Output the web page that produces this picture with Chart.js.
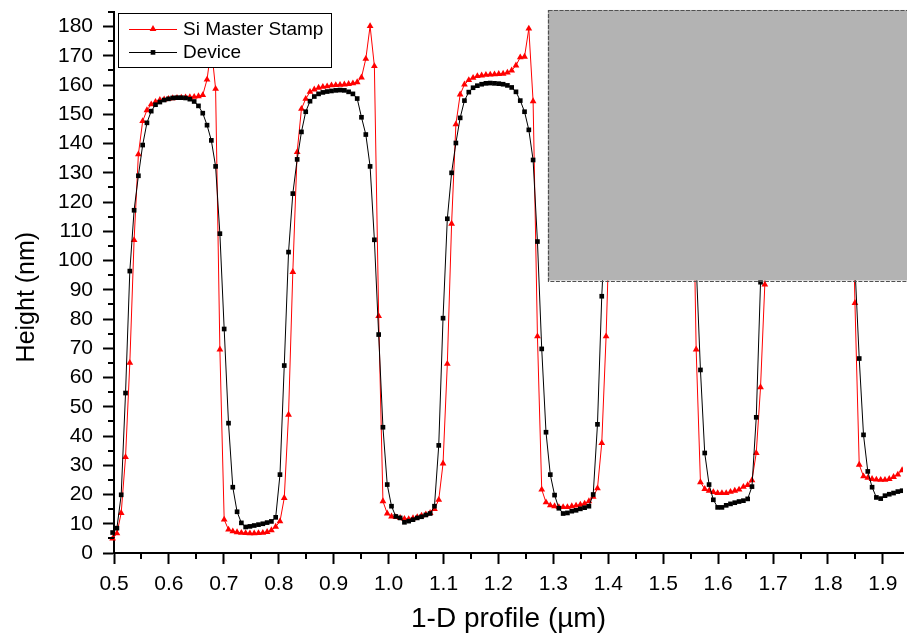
<!DOCTYPE html>
<html><head><meta charset="utf-8">
<script src="https://cdn.jsdelivr.net/npm/chart.js@4.4.1/dist/chart.umd.min.js"></script>
<style>html,body{margin:0;padding:0;background:#fff;}#wrap{width:907px;height:637px;position:relative;}</style>
</head><body><div id="wrap"><canvas id="c" width="907" height="637"></canvas></div>
<script>
// ---- data ----
const xValues = [
0.4897,0.4975,0.5053,0.5131,0.5210,0.5288,0.5366,0.5444,
0.5522,0.5600,0.5678,0.5756,0.5835,0.5913,0.5991,0.6069,
0.6147,0.6225,0.6303,0.6381,0.6460,0.6538,0.6616,0.6694,
0.6772,0.6850,0.6928,0.7006,0.7085,0.7163,0.7241,0.7319,
0.7397,0.7475,0.7553,0.7631,0.7710,0.7788,0.7866,0.7944,
0.8022,0.8100,0.8178,0.8256,0.8335,0.8413,0.8491,0.8569,
0.8647,0.8725,0.8803,0.8881,0.8960,0.9038,0.9116,0.9194,
0.9272,0.9350,0.9428,0.9506,0.9585,0.9663,0.9741,0.9819,
0.9897,0.9975,1.0053,1.0131,1.0210,1.0288,1.0366,1.0444,
1.0522,1.0600,1.0678,1.0756,1.0835,1.0913,1.0991,1.1069,
1.1147,1.1225,1.1303,1.1381,1.1460,1.1538,1.1616,1.1694,
1.1772,1.1850,1.1928,1.2006,1.2085,1.2163,1.2241,1.2319,
1.2397,1.2475,1.2553,1.2631,1.2710,1.2788,1.2866,1.2944,
1.3022,1.3100,1.3178,1.3256,1.3335,1.3413,1.3491,1.3569,
1.3647,1.3725,1.3803,1.3881,1.3960,1.4038,1.4116,1.4194,
1.4272,1.4350,1.4428,1.4506,1.4585,1.4663,1.4741,1.4819,
1.4897,1.4975,1.5053,1.5131,1.5210,1.5288,1.5366,1.5444,
1.5522,1.5600,1.5678,1.5756,1.5835,1.5913,1.5991,1.6069,
1.6147,1.6225,1.6303,1.6381,1.6460,1.6538,1.6616,1.6694,
1.6772,1.6850,1.6928,1.7006,1.7085,1.7163,1.7241,1.7319,
1.7397,1.7475,1.7553,1.7631,1.7710,1.7788,1.7866,1.7944,
1.8022,1.8100,1.8178,1.8256,1.8335,1.8413,1.8491,1.8569,
1.8647,1.8725,1.8803,1.8881,1.8960,1.9038,1.9116,1.9194,
1.9272,1.9350,1.9428
];
const stampHeights = [
4.4,4.9,6.7,13.7,32.8,65.0,107.0,136.3,147.7,151.4,
153.4,154.3,154.9,155.1,155.3,155.5,155.6,155.7,155.8,155.9,
156.0,156.2,156.6,161.9,173.0,158.7,69.6,11.4,8.0,7.4,
7.1,6.9,6.8,6.7,6.7,6.8,6.9,7.2,7.8,9.0,
10.8,18.8,47.3,96.1,137.1,151.9,155.3,157.7,158.5,159.1,
159.4,159.6,159.9,160.0,160.1,160.2,160.4,160.6,161.0,162.6,
169.0,180.2,166.5,81.0,17.7,13.5,12.5,12.3,12.0,11.7,
11.6,11.9,12.3,12.8,13.2,13.7,15.0,18.2,30.6,64.7,
112.6,146.6,156.8,160.2,161.7,162.5,163.1,163.3,163.5,163.6,
163.7,163.8,163.9,164.3,165.0,166.7,169.5,169.7,179.3,154.5,
74.1,21.7,17.3,16.3,16.0,15.7,15.7,15.7,16.0,16.2,
16.5,16.9,17.7,19.2,22.1,37.6,74.1,123,150,158,
161,162.5,163.3,163.8,164.1,164.4,164.6,164.8,165.0,165.3,
165.8,166.5,168.0,170.0,170.5,181.0,155.0,69.6,24.2,21.9,
21.3,20.8,20.5,20.5,20.5,20.9,21.3,21.7,22.6,23.2,
24.9,34.2,56.7,91.8,138,156,161,163,164,164.6,
165,165.3,165.6,165.9,166.2,166.5,167,167.8,169,171,
173,175,186,152,85.5,30.2,26.2,25.7,25.3,25.1,
25.0,25.0,25.3,26.0,26.8,28.3,30.0
];
const deviceHeights = [
5.5,7.0,8.5,19.9,54.7,96.4,117.2,129.0,139.5,147.1,
151.1,153.3,154.2,154.9,155.3,155.6,155.7,155.7,155.6,155.2,
154.4,152.9,150.4,146.3,141.1,132.2,109.2,76.6,44.4,22.5,
14.1,10.3,8.9,9.1,9.4,9.7,10.0,10.4,10.8,12.2,
26.8,64.1,102.9,122.9,134.6,144.0,150.9,154.5,156.1,157.0,
157.5,157.8,158.0,158.2,158.3,158.2,157.7,157.0,155.4,149.0,
143.1,132.2,107.1,74.7,43.0,23.4,16.0,12.5,12.0,10.5,
10.9,11.4,12.0,12.4,13.0,13.5,16.0,36.8,80.3,114.3,
130.0,140.2,148.8,154.7,157.6,159.1,159.8,160.3,160.6,160.7,
160.6,160.5,160.3,159.9,159.2,157.7,154.7,150.9,144.7,134.4,
106.5,69.8,41.3,26.8,19.8,15.3,13.5,13.7,14.3,14.6,
15.1,15.5,16.0,20.0,44.0,87.8,118,133,143,150,
155,158,159.5,160.2,160.6,160.8,160.8,160.6,160.4,160.0,
159.3,158.0,155.5,151.5,145.5,136.0,121.0,99.0,62.6,34.2,
23.4,18.2,15.6,15.6,16.3,16.8,17.2,17.6,17.9,18.5,
22.7,46.4,92.6,120,136,146,152,156,158.5,159.8,
160.5,161,161.2,161.2,161,160.6,160,159,157.5,155,
151,145,136,122,98,66.5,40.4,27.9,22.5,19.0,
18.6,19.6,20.1,20.5,21.0,21.3,21.6
];
const seriesNames = ['Si Master Stamp', 'Device'];
const xAxisTitle = '1-D profile (\u00b5m)';
const yAxisTitle = 'Height (nm)';
const xRange = [0.5, 1.9366];
const yRange = [0, 185];
const xMajorStep = 0.1;
const yMajorStep = 10;
// grey mask rectangle, in data units
const maskBox = { x0: 1.29, x1: 2.0, y0: 93.2, y1: 185.7 };

const FONT = "'Liberation Sans', Arial, sans-serif";
const RED = '#ff0000', BLACK = '#000000';

function toPoints(ys) { return ys.map((v, i) => ({ x: xValues[i], y: v })); }

const styles = [
  { color: RED, pointStyle: 'triangle', radius: 3.9 },
  { color: BLACK, pointStyle: 'rect', radius: 3.3 }
];

const extras = {
  id: 'extras',
  afterDatasetsDraw(chart) {
    const { ctx, chartArea, scales: { x, y } } = chart;
    // grey mask rectangle
    const bx0 = x.getPixelForValue(maskBox.x0), bx1 = x.getPixelForValue(maskBox.x1);
    const by0 = y.getPixelForValue(maskBox.y1), by1 = y.getPixelForValue(maskBox.y0);
    ctx.save();
    ctx.fillStyle = '#b3b3b3';
    ctx.fillRect(bx0, by0, bx1 - bx0, by1 - by0);
    ctx.strokeStyle = '#505050';
    ctx.lineWidth = 1.2;
    ctx.setLineDash([4, 1.5]);
    ctx.strokeRect(Math.round(bx0) + 0.5, Math.round(by0) + 0.5, bx1 - bx0, Math.round(by1 - by0));
    ctx.setLineDash([]);
    // legend box
    const L = chartArea.left + 4, T = 13, W = 213, H = 54;
    ctx.fillStyle = '#ffffff';
    ctx.fillRect(L, T, W, H);
    ctx.strokeStyle = '#000';
    ctx.lineWidth = 1;
    ctx.strokeRect(L + 0.5, T + 0.5, W, H);
    chart.data.datasets.forEach((ds, i) => {
      const st = styles[i];
      const ry = T + 15.5 + i * 23.4;
      ctx.strokeStyle = st.color;
      ctx.lineWidth = 1;
      ctx.beginPath();
      ctx.moveTo(L + 11, Math.round(ry) + 0.5);
      ctx.lineTo(L + 59, Math.round(ry) + 0.5);
      ctx.stroke();
      ctx.fillStyle = st.color;
      Chart.helpers.drawPoint(ctx, { pointStyle: st.pointStyle, radius: st.radius, rotation: 0, borderWidth: 0 }, L + 35, ry + 0.5);
      ctx.fillStyle = '#000';
      ctx.font = '19px ' + FONT;
      ctx.textBaseline = 'middle';
      ctx.textAlign = 'left';
      ctx.fillText(ds.label, L + 65, ry + 1);
    });
    ctx.restore();
  },
  afterDraw(chart) {
    const { ctx, chartArea, scales: { x, y } } = chart;
    ctx.save();
    ctx.strokeStyle = '#000';
    ctx.lineWidth = 2;
    ctx.beginPath();
    for (let k = 0; ; k++) {
      const v = xRange[0] + xMajorStep / 2 + k * xMajorStep;
      if (v > xRange[1]) break;
      const p = Math.round(x.getPixelForValue(v));
      ctx.moveTo(p, chartArea.bottom);
      ctx.lineTo(p, chartArea.bottom + 6);
    }
    for (let k = 0; ; k++) {
      const v = yRange[0] + yMajorStep / 2 + k * yMajorStep;
      if (v > yRange[1] + 1e-9) break;
      const p = Math.round(y.getPixelForValue(v));
      ctx.moveTo(chartArea.left - 6, p);
      ctx.lineTo(chartArea.left, p);
    }
    ctx.stroke();
    // y axis title (placed like the reference, slightly below the axis centre)
    ctx.fillStyle = '#000';
    ctx.font = '25px ' + FONT;
    ctx.textAlign = 'center';
    ctx.textBaseline = 'middle';
    ctx.translate(27, y.getPixelForValue(87.5));
    ctx.rotate(-Math.PI / 2);
    ctx.fillText(yAxisTitle, 0, 0);
    ctx.restore();
  }
};

new Chart(document.getElementById('c'), {
  type: 'line',
  data: {
    datasets: [
      { label: seriesNames[0], data: toPoints(stampHeights), borderColor: RED, backgroundColor: RED,
        borderWidth: 1, pointStyle: 'triangle', pointRadius: 3.9, pointBorderWidth: 0,
        pointBackgroundColor: RED, tension: 0, fill: false, order: 1,
        clip: { left: 8, top: 0, right: 0, bottom: 6 } },
      { label: seriesNames[1], data: toPoints(deviceHeights), borderColor: BLACK, backgroundColor: BLACK,
        borderWidth: 1, pointStyle: 'rect', pointRadius: 3.3, pointBorderWidth: 0,
        pointBackgroundColor: BLACK, tension: 0, fill: false, order: 0,
        clip: { left: 8, top: 0, right: 0, bottom: 6 } }
    ]
  },
  options: {
    responsive: false,
    animation: false,
    events: [],
    layout: { padding: { top: 12, left: 0, right: 0, bottom: 0 } },
    plugins: { legend: { display: false }, tooltip: { enabled: false } },
    scales: {
      x: {
        type: 'linear', min: xRange[0], max: xRange[1],
        grid: { drawOnChartArea: false, tickLength: 11, tickWidth: 2, tickColor: '#000' },
        border: { display: true, color: '#000', width: 2 },
        ticks: { stepSize: xMajorStep, includeBounds: false, autoSkip: false, maxRotation: 0,
          padding: 8, color: '#000', font: { family: FONT, size: 21 },
          callback: v => Number(v).toFixed(1) },
        title: { display: true, text: xAxisTitle, color: '#000', font: { family: FONT, size: 28 },
          padding: { top: 0, bottom: 1 } },
        afterFit: s => { s.height = 84; s.paddingLeft = 0; s.paddingRight = 0; }
      },
      y: {
        type: 'linear', min: yRange[0], max: yRange[1],
        grid: { drawOnChartArea: false, tickLength: 11, tickWidth: 2, tickColor: '#000' },
        border: { display: true, color: '#000', width: 2 },
        ticks: { stepSize: yMajorStep, includeBounds: false, autoSkip: false,
          padding: 10, color: '#000', font: { family: FONT, size: 21 },
          callback: v => String(Math.round(v)) },
        title: { display: false, text: yAxisTitle },
        afterFit: s => { s.width = 114; s.paddingTop = 0; s.paddingBottom = 0; }
      }
    }
  },
  plugins: [extras]
});
</script>
</body></html>
